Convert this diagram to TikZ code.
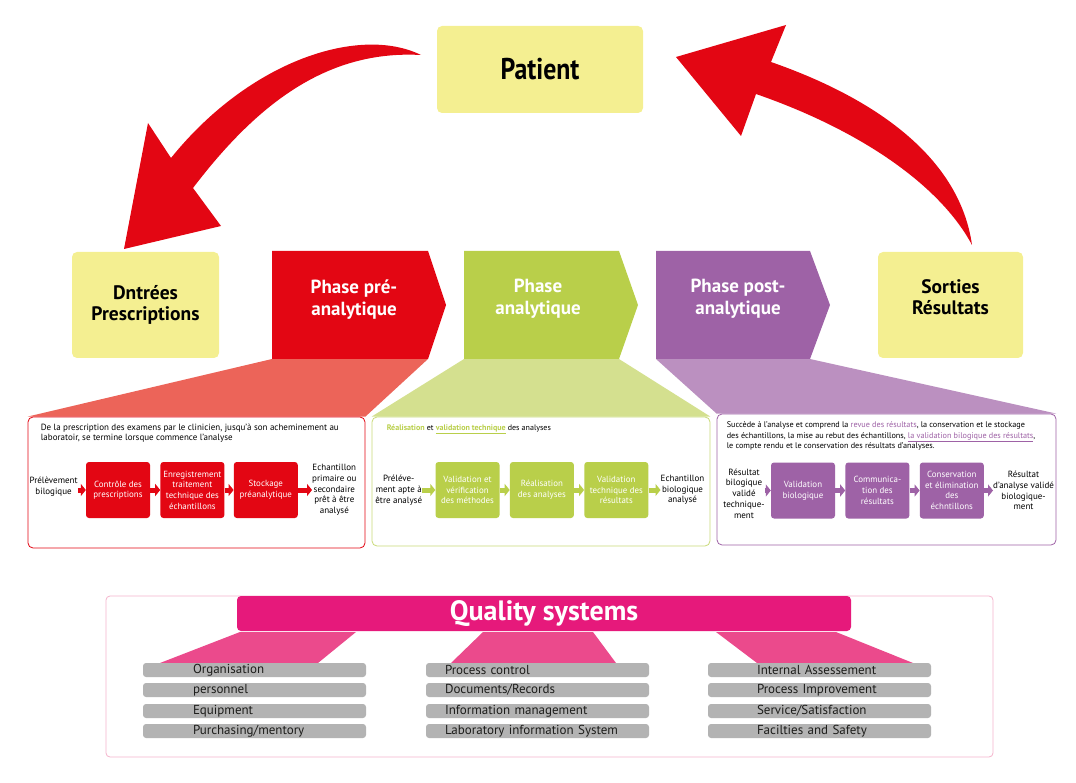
\documentclass[tikz,border=0pt]{standalone}
\usepackage{fontspec}
\setmainfont{PT Sans}
\newfontfamily\condfont[FakeStretch=0.86]{PT Sans}
\usepackage{xcolor}
\usepackage{tikz}
\usetikzlibrary{positioning, calc, arrows.meta, backgrounds}

\definecolor{arrowRed}{HTML}{E30613}
\definecolor{preRed}{HTML}{E30613}
\definecolor{preLight}{HTML}{EC6459}
\definecolor{anaGreen}{HTML}{B9CF4A}
\definecolor{anaLine}{HTML}{C9DA78}
\definecolor{anaLight}{HTML}{D4E08F}
\definecolor{postPurple}{HTML}{9E62A6}
\definecolor{postLight}{HTML}{BB90C0}
\definecolor{ioYellow}{HTML}{F4EF91}
\definecolor{qsMagenta}{HTML}{E6197B}
\definecolor{qsPink}{HTML}{EB4A8C}
\definecolor{qsBorder}{HTML}{F4B3CB}
\definecolor{barGray}{HTML}{B3B3B3}
\definecolor{barText}{HTML}{1D1D1B}

\tikzset{
  %% Yellow input / output box
  iobox/.style={
    rectangle, rounded corners=5pt, fill=ioYellow,
    align=center, inner sep=2pt,
    font=\bfseries\fontsize{19.5}{21}\selectfont
  },
  %% Title on a phase chevron
  phasetxt/.style={
    align=center, text=white, inner sep=0pt,
    font=\bfseries\fontsize{19}{22}\selectfont
  },
  %% Detail panel under a phase
  panel/.style={
    rectangle, rounded corners=5pt, draw=#1, fill=white,
    line width=0.8pt, inner sep=0pt
  },
  %% Panel heading
  hdr/.style={align=left, inner sep=0pt, font=\fontsize{#1}{10.5}\selectfont},
  hdr/.default=8,
  %% Process step
  stepbox/.style={
    rectangle, rounded corners=3pt, fill=#1, text=white,
    minimum width=64pt, minimum height=56pt,
    align=center, inner sep=1pt,
    font=\fontsize{8.9}{10.7}\selectfont
  },
  %% Text before / after the steps
  flowtxt/.style={align=center, inner sep=0pt, font=\fontsize{9}{10.7}\selectfont},
  %% Short fat arrow
  flowarr/.style={-{Triangle[length=5pt,width=12pt]}, draw=#1, line width=5pt},
  %% Grey quality item bar
  barbox/.style={
    rectangle, rounded corners=3pt, fill=barGray, text=barText,
    text width=223pt, minimum height=14pt, inner sep=0pt, align=left,
    font=\fontsize{13}{13}\selectfont,
    execute at begin node={\hspace*{#1}}
  },
}

\begin{document}
\begin{tikzpicture}[x=1pt, y=-1pt]
  \useasboundingbox (0,0) rectangle (1076,783);

  %% Patient and the two return arrows
  \node[iobox, minimum width=206pt, minimum height=87pt,
        font=\condfont\bfseries\fontsize{30}{34}\selectfont] (patient) at (540,69.5) {Patient};
  \fill[arrowRed] (421,55) .. controls (360,25) and (250,60) .. (171,158)
    -- (148,123) -- (124,249) -- (221,226) -- (193,188)
    .. controls (260,100) and (330,50) .. (421,55) -- cycle;
  \fill[arrowRed] (972,245) .. controls (960,160) and (880,100) .. (771,62)
    -- (786,25) -- (676,57) -- (741,136) -- (756,94)
    .. controls (860,130) and (940,185) .. (972,245) -- cycle;

  %% Inputs and outputs
  \node[iobox, minimum width=147pt, minimum height=106pt] (entrees) at (145.5,305) {Dntrées\\Prescriptions};
  \node[iobox, minimum width=145pt, minimum height=106pt, text depth=16pt] (sorties) at (950.5,305) {Sorties\\Résultats};

  %% Phase chevrons
  \fill[preRed] (272,251) -- (428,251) -- (446,305) -- (428,359) -- (272,359) -- cycle;
  \fill[anaGreen] (464,251) -- (619,251) -- (638,305) -- (619,359) -- (464,359) -- cycle;
  \fill[postPurple] (656,251) -- (810,251) -- (830,305) -- (810,359) -- (656,359) -- cycle;
  \node[phasetxt] (phasePre) at (354,300) {Phase pré-\\analytique};
  \node[phasetxt] (phaseAna) at (538,299) {Phase\\analytique};
  \node[phasetxt] (phasePost) at (738,299) {Phase post-\\analytique};

  %% Detail panels
  \node[panel=preRed, minimum width=337pt, minimum height=131pt] (panelPre) at (196.5,482.5) {};
  \node[panel=anaLine, minimum width=338pt, minimum height=129pt] (panelAna) at (541,481.5) {};
  \node[panel=postPurple, minimum width=339pt, minimum height=131pt] (panelPost) at (886.5,479.5) {};
  \begin{scope}[on background layer]
    \fill[preLight] (272,359) -- (428,359) -- (panelPre.north east) -- (panelPre.north west) -- cycle;
    \fill[anaLight] (464,359) -- (619,359) -- (panelAna.north east) -- (panelAna.north west) -- cycle;
    \fill[postLight] (656,359) -- (810,359) -- (panelPost.north east) -- (panelPost.north west) -- cycle;
  \end{scope}

  %% Pre-analytic phase
  \node[hdr=9, below right=7pt and 13pt of panelPre.north west] (hdrPre)
    {De la prescription des examens par le clinicien, jusqu'à son acheminement au\\
     laboratoir, se termine lorsque commence l'analyse};
  \node[stepbox=preRed] (preS1) at (118,490) {Contrôle des\\prescriptions};
  \node[stepbox=preRed, right=10pt of preS1] (preS2) {Enregistrement\\traitement\\technique des\\échantillons};
  \node[stepbox=preRed, right=9pt of preS2] (preS3) {Stockage\\préanalytique};
  \node[flowtxt, left=8pt of preS1, yshift=3pt] (preIn) {Prélèvement\\bilogique};
  \node[flowtxt, right=14pt of preS3] (preOut) {Echantillon\\primaire ou\\secondaire\\prêt à être\\analysé};
  \draw[flowarr=preRed] (preIn.east |- preS1) -- (preS1);
  \draw[flowarr=preRed] (preS1) -- (preS2);
  \draw[flowarr=preRed] (preS2) -- (preS3);
  \draw[flowarr=preRed] (preS3) -- (preOut.west |- preS3);

  %% Analytic phase
  \node[hdr=8, below right=8pt and 15pt of panelAna.north west] (hdrAna)
    {{\color{anaGreen}\bfseries Réalisation} et {\color{anaGreen}\bfseries\underline{validation technique}} des analyses};
  \node[stepbox=anaGreen] (anaS1) at (467.5,490) {Validation et\\vérification\\des méthodes};
  \node[stepbox=anaGreen, right=10pt of anaS1] (anaS2) {Réalisation\\des analyses};
  \node[stepbox=anaGreen, right=10pt of anaS2] (anaS3) {Validation\\technique des\\résultats};
  \node[flowtxt, left=13pt of anaS1] (anaIn) {Préléve-\\ment apte à\\être analysé};
  \node[flowtxt, right=12pt of anaS3] (anaOut) {Echantillon\\biologique\\analysé};
  \draw[flowarr=anaGreen] (anaIn.east |- anaS1) -- (anaS1);
  \draw[flowarr=anaGreen] (anaS1) -- (anaS2);
  \draw[flowarr=anaGreen] (anaS2) -- (anaS3);
  \draw[flowarr=anaGreen] (anaS3) -- (anaOut.west |- anaS3);

  %% Post-analytic phase
  \node[hdr=8.2, below right=8pt and 10pt of panelPost.north west] (hdrPost)
    {Succède à l'analyse et comprend la {\color{postPurple}revue des résultats}, la conservation et le stockage\\
     des échantillons, la mise au rebut des échantillons, {\color{postPurple}\underline{la validation bilogique des résultats}},\\
     le compte rendu et le conservation des résultats d'analyses.};
  \node[stepbox=postPurple] (postS1) at (803,490.5) {Validation\\biologique};
  \node[stepbox=postPurple, right=10pt of postS1] (postS2) {Communica-\\tion des\\résultats};
  \node[stepbox=postPurple, right=10pt of postS2] (postS3) {Conservation\\et élimination\\des\\échntillons};
  \node[flowtxt, left=6pt of postS1, yshift=-3pt] (postIn) {Résultat\\bilogique\\validé\\technique-\\ment};
  \node[flowtxt, right=9pt of postS3] (postOut) {Résultat\\d'analyse validé\\biologique-\\ment};
  \draw[flowarr=postPurple] (postIn.east |- postS1) -- (postS1);
  \draw[flowarr=postPurple] (postS1) -- (postS2);
  \draw[flowarr=postPurple] (postS2) -- (postS3);
  \draw[flowarr=postPurple] (postS3) -- (postOut.west |- postS3);

  %% Quality systems
  \node[rectangle, rounded corners=4pt, draw=qsBorder, line width=0.8pt,
        minimum width=887pt, minimum height=161pt] (qsFrame) at (549.5,676.5) {};
  \fill[qsPink] (240,632) -- (356,632) -- (318,663) -- (160,663) -- cycle;
  \fill[qsPink] (483,632) -- (593,632) -- (616,663) -- (451,663) -- cycle;
  \fill[qsPink] (716,632) -- (836,632) -- (913,663) -- (757,663) -- cycle;
  \node[rectangle, rounded corners=4pt, fill=qsMagenta, minimum width=614pt, minimum height=35pt,
        text=white, font=\bfseries\fontsize{28}{30}\selectfont] (qsTitle) at (544,613.5) {Quality systems};

  \node[barbox=50pt] (qsOrg) at (254.5,670) {Organisation};
  \node[barbox=50pt] (qsPers) at (254.5,690) {personnel};
  \node[barbox=50pt] (qsEquip) at (254.5,711) {Equipment};
  \node[barbox=50pt] (qsPurch) at (254.5,731) {Purchasing/mentory};
  \node[barbox=19pt] (qsProc) at (537.5,670) {Process control};
  \node[barbox=19pt] (qsDocs) at (537.5,690) {Documents/Records};
  \node[barbox=19pt] (qsInfo) at (537.5,711) {Information management};
  \node[barbox=19pt] (qsLis) at (537.5,731) {Laboratory information System};
  \node[barbox=49pt] (qsAssess) at (819.5,670) {Internal Assessement};
  \node[barbox=49pt] (qsImpr) at (819.5,690) {Process Improvement};
  \node[barbox=49pt] (qsServ) at (819.5,711) {Service/Satisfaction};
  \node[barbox=49pt] (qsSafe) at (819.5,731) {Facilties and Safety};
\end{tikzpicture}
\end{document}
